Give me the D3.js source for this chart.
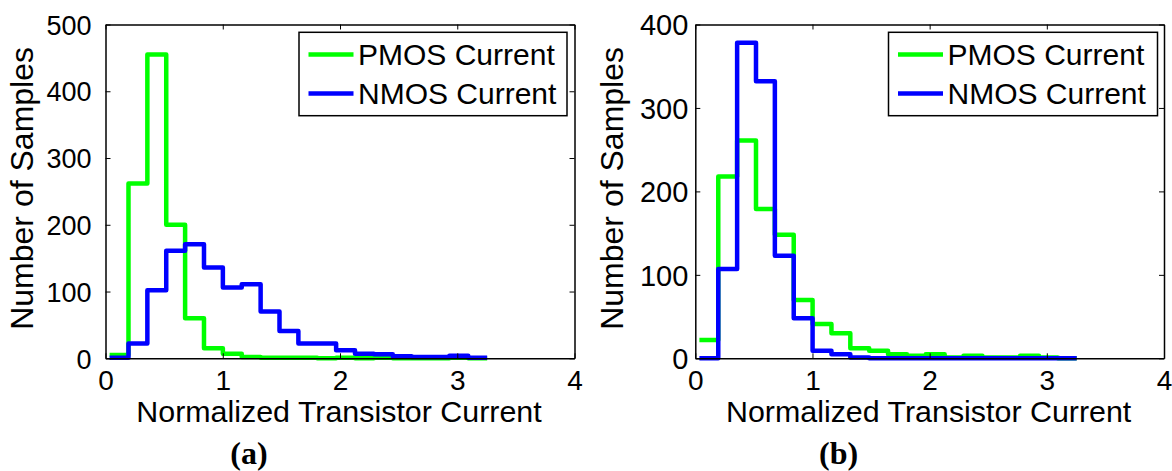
<!DOCTYPE html>
<html>
<head>
<meta charset="utf-8">
<script src="https://cdn.jsdelivr.net/npm/d3@7"></script>
<style>
  html, body { margin: 0; padding: 0; background: #fff; }
  svg { display: block; }
  text { font-family: "Liberation Sans", Arial, Helvetica, sans-serif; fill: #000; }
</style>
</head>
<body>
<svg id="chart" width="1172" height="471"></svg>
<script>
// ---- data ----
const binEdges = [0.035, 0.196, 0.357, 0.518, 0.679, 0.840, 1.001, 1.162, 1.323, 1.484, 1.645,
                  1.806, 1.967, 2.128, 2.289, 2.450, 2.611, 2.772, 2.933, 3.094, 3.255];
const pmosA = [5, 262, 455, 200, 60, 15, 7, 2, 1, 1, 1, 0, 1, 0, 1, 0, 0, 0, 1, 0];
const nmosA = [1, 22, 102, 161, 171, 136, 106, 111, 70, 41, 22, 22, 12, 7, 6, 3, 2, 2, 4, 1];
const pmosB = [22, 218, 261, 179, 148, 70, 41, 30, 12, 9, 5, 3, 5, 1, 3, 1, 1, 3, 1, 0];
const nmosB = [0, 107, 378, 332, 123, 48, 9, 5, 1, 0, 0, 0, 0, 0, 0, 0, 0, 0, 0, 0];
const xTicks = [0, 1, 2, 3, 4];
const yTicksA = [0, 100, 200, 300, 400, 500];
const yTicksB = [0, 100, 200, 300, 400];
const seriesNames = ["PMOS Current", "NMOS Current"];
const seriesColors = ["#00ff00", "#0000ff"];
const xLabel = "Normalized Transistor Current";
const yLabel = "Number of Samples";
const captions = ["(a)", "(b)"];

const svg = d3.select("#chart");

const panels = [
  { x0: 105.5, x1: 574.5, yMax: 500, yTicks: yTicksA, series: [pmosA, nmosA], caption: captions[0],
    tickFont: 27, tickGap: 14, yLabelX: 33, legendX: 299, legendW: 268 },
  { x0: 695.3, x1: 1164, yMax: 400, yTicks: yTicksB, series: [pmosB, nmosB], caption: captions[1],
    tickFont: 29, tickGap: 7, yLabelX: 623, legendX: 888.5, legendW: 269 }
];
const yTop = 24.5, yBot = 358.3;

panels.forEach(p => {
  const x = d3.scaleLinear().domain([0, 4]).range([p.x0, p.x1]);
  const y = d3.scaleLinear().domain([0, p.yMax]).range([yBot, yTop]);
  const g = svg.append("g");

  // series (stairs)
  const line = d3.line().x(d => x(d[0])).y(d => y(d[1])).curve(d3.curveStepAfter);
  p.series.forEach((vals, i) => {
    const pts = vals.map((v, k) => [binEdges[k], v]);
    pts.push([binEdges[binEdges.length - 1], vals[vals.length - 1]]);
    g.append("path").datum(pts)
      .attr("d", line)
      .attr("fill", "none")
      .attr("stroke", seriesColors[i])
      .attr("stroke-width", 4.5)
      .attr("stroke-linejoin", "round")
      .attr("stroke-linecap", "butt");
  });

  // axes (ticks inward, box)
  const tickLen = 5;
  const bottom = g.append("g").attr("transform", `translate(0,${yBot})`)
    .call(d3.axisBottom(x).tickValues(xTicks).tickSizeInner(-tickLen).tickSizeOuter(0).tickPadding(10).tickFormat(d3.format("d")));
  const top = g.append("g").attr("transform", `translate(0,${yTop})`)
    .call(d3.axisTop(x).tickValues(xTicks).tickSizeInner(-tickLen).tickSizeOuter(0).tickFormat(""));
  const left = g.append("g").attr("transform", `translate(${p.x0},0)`)
    .call(d3.axisLeft(y).tickValues(p.yTicks).tickSizeInner(-tickLen).tickSizeOuter(0).tickPadding(p.tickGap).tickFormat(d3.format("d")));
  const right = g.append("g").attr("transform", `translate(${p.x1},0)`)
    .call(d3.axisRight(y).tickValues(p.yTicks).tickSizeInner(-tickLen).tickSizeOuter(0).tickFormat(""));
  [bottom, top, left, right].forEach(a => {
    a.selectAll(".domain").attr("stroke", "#000").attr("stroke-width", 1.5);
    a.selectAll(".tick line").attr("stroke", "#000").attr("stroke-width", 1);
  });
  bottom.selectAll(".tick text").attr("font-size", 28).attr("font-family", "Liberation Sans, Arial, sans-serif").attr("fill", "#000").attr("y", 32).attr("dy", 0);
  left.selectAll(".tick text").attr("font-size", p.tickFont).attr("font-family", "Liberation Sans, Arial, sans-serif").attr("fill", "#000").attr("dy", "0.36em");

  // axis labels
  g.append("text").attr("x", (p.x0 + p.x1) / 2 - 1).attr("y", 422)
    .attr("text-anchor", "middle").attr("font-size", 30.4).text(xLabel);
  g.append("text").attr("transform", `translate(${p.yLabelX},${(yTop + yBot) / 2 - 3}) rotate(-90)`)
    .attr("text-anchor", "middle").attr("font-size", 32).text(yLabel);

  // legend
  const lg = g.append("g");
  lg.append("rect").attr("x", p.legendX).attr("y", 32.3).attr("width", p.legendW).attr("height", 83.4)
    .attr("fill", "#fff").attr("stroke", "#000").attr("stroke-width", 1.5);
  seriesNames.forEach((name, i) => {
    const ly = 54.5 + i * 39;
    lg.append("line").attr("x1", p.legendX + 9.5).attr("x2", p.legendX + 54.5)
      .attr("y1", ly).attr("y2", ly).attr("stroke", seriesColors[i]).attr("stroke-width", 4.5);
    lg.append("text").attr("x", p.legendX + 59).attr("y", ly + 10.5).attr("font-size", 30).text(name);
  });

  // caption
  g.append("text").attr("x", (p.x0 + p.x1) / 2 - 91).attr("y", 464)
    .attr("text-anchor", "middle").attr("font-size", 32).attr("font-weight", "bold")
    .style("font-family", "'Liberation Serif', 'Times New Roman', serif").text(p.caption);
});
</script>
</body>
</html>
